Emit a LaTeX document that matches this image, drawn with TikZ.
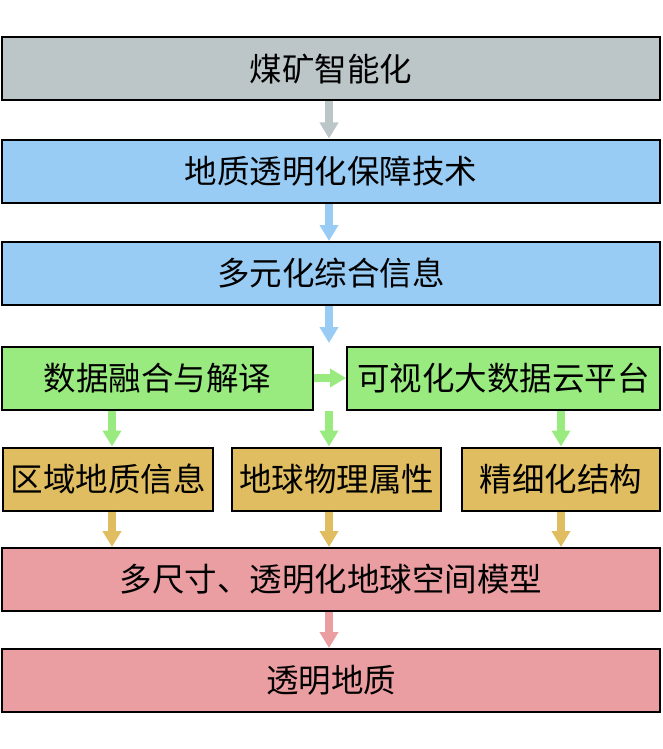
\documentclass[tikz,border=0pt]{standalone}
\usepackage{fontspec}
\newfontfamily\cjk{Noto Sans CJK SC}
\usetikzlibrary{arrows.meta}
\definecolor{cgray}{RGB}{188,198,200}
\definecolor{cblue}{RGB}{153,204,245}
\definecolor{cgreen}{RGB}{153,235,128}
\definecolor{cbrown}{RGB}{224,189,96}
\definecolor{cpink}{RGB}{234,158,161}
\tikzset{
  box/.style={draw=black, line width=2pt, inner sep=0pt,
              minimum height=63pt, font=\cjk\fontsize{32.5}{32.5}\selectfont},
  flow/.style={line width=8pt, -{Triangle[width=18pt,length=16pt]}}
}
\begin{document}
\begin{tikzpicture}[x=1pt,y=-1pt]
  \useasboundingbox (0,0) rectangle (662,749);
  \coordinate (mid) at (329,0);
  \node[box, fill=cgray,  minimum width=658pt] (smart)  at (331,69)    {煤矿智能化};
  \node[box, fill=cblue,  minimum width=658pt] (tech)   at (331,171)   {地质透明化保障技术};
  \node[box, fill=cblue,  minimum width=658pt] (info)   at (331,273.5) {多元化综合信息};
  \node[box, fill=cgreen, minimum width=311pt] (fuse)   at (157.5,378) {数据融合与解译};
  \node[box, fill=cgreen, minimum width=313pt] (cloud)  at (503.5,378) {可视化大数据云平台};
  \node[box, fill=cbrown, minimum width=210pt] (region) at (108,479)   {区域地质信息};
  \node[box, fill=cbrown, minimum width=209pt] (geo)    at (336.5,479) {地球物理属性};
  \node[box, fill=cbrown, minimum width=198pt] (fine)   at (561,479)   {精细化结构};
  \node[box, fill=cpink,  minimum width=658pt] (model)  at (331,579.5) {多尺寸、透明化地球空间模型};
  \node[box, fill=cpink,  minimum width=658pt] (geol)   at (331,680.5) {透明地质};

  \draw[flow, cgray]  (smart.south -| mid) -- (tech.north -| mid);
  \draw[flow, cblue]  (tech.south -| mid)  -- (info.north -| mid);
  \draw[flow, cblue]  (info.south -| mid)  -- ++(0,37);
  \draw[flow, cgreen] (fuse.east) -- (cloud.west);
  \draw[flow, cgreen] (fuse.south -| 112,0) -- (region.north -| 112,0);
  \draw[flow, cgreen] (fuse.south -| mid)  -- (geo.north -| mid);
  \draw[flow, cgreen] (cloud.south -| fine) -- (fine.north);
  \draw[flow, cbrown] (region.south -| 112,0) -- (model.north -| 112,0);
  \draw[flow, cbrown] (geo.south -| mid)   -- (model.north -| mid);
  \draw[flow, cbrown] (fine.south) -- (model.north -| fine);
  \draw[flow, cpink]  (model.south -| mid) -- (geol.north -| mid);
\end{tikzpicture}
\end{document}
